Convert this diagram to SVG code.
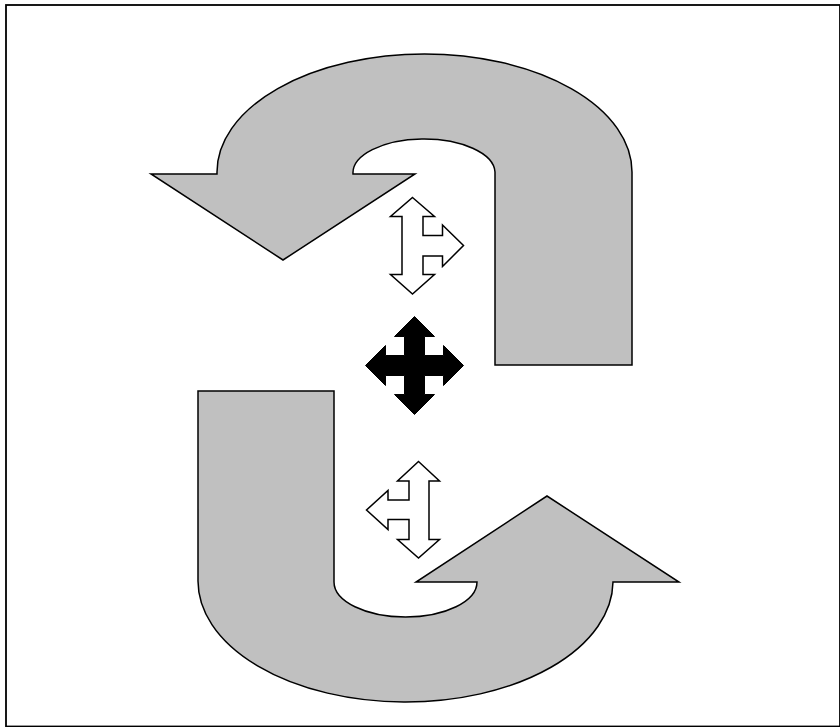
<svg xmlns="http://www.w3.org/2000/svg" width="840" height="727" viewBox="0 0 840 727">
<style>
.big{fill:#c0c0c0;stroke:#000;stroke-width:1.5;stroke-linejoin:miter}
.small{fill:#fff;stroke:#000;stroke-width:1.5}
.black{fill:#000;stroke:#000;stroke-width:1}
</style>
<rect x="0" y="0" width="840" height="727" fill="#fff"/>
<rect id="frame" x="6" y="5" width="834" height="721.5" fill="none" stroke="#000" stroke-width="1.8"/>
<g id="top-uturn">
<path class="big" d="M632,365 L632,172 A207.5,118 0 0 0 217,172 L217,174 L151,174 L283,260 L415,174 L353,174 A71,34 0 0 1 495,172 L495,365 Z"/>
</g>
<g id="bottom-uturn">
<path class="big" d="M198,391 L334,391 L334,582 A71.5,35 0 0 0 477,582 L416,582 L547,496 L679,582 L613,582 A207.5,121 0 0 1 198,580 Z"/>
</g>
<g id="top-three-way">
<polygon class="small" points="412.5,197.5 434.5,216.5 423,216.5 423,235.5 442.5,235.5 442.5,225 463.5,245.5 442.5,266.5 442.5,256 423,256 423,274.5 434.5,274.5 412.5,294 390.5,274.5 402,274.5 402,216.5 390.5,216.5"/>
</g>
<g id="center-four-way">
<polygon class="black" points="414.5,316.5 434.5,336.5 424.5,336.5 424.5,355.5 443.5,355.5 443.5,345.5 463.5,365.5 443.5,385.5 443.5,375.5 424.5,375.5 424.5,394.5 434.5,394.5 414.5,414.5 394.5,394.5 404.5,394.5 404.5,375.5 385.5,375.5 385.5,385.5 365.5,365.5 385.5,345.5 385.5,355.5 404.5,355.5 404.5,336.5 394.5,336.5"/>
</g>
<g id="bottom-three-way">
<polygon class="small" points="418.5,461.5 439.5,481 429,481 429,539.5 439.5,539.5 418.5,558 397.5,539.5 409,539.5 409,519.5 388,519.5 388,529.5 366.5,510 388,490.5 388,500 409,500 409,481 397.5,481"/>
</g>
<g id="connectors"/>
</svg>
